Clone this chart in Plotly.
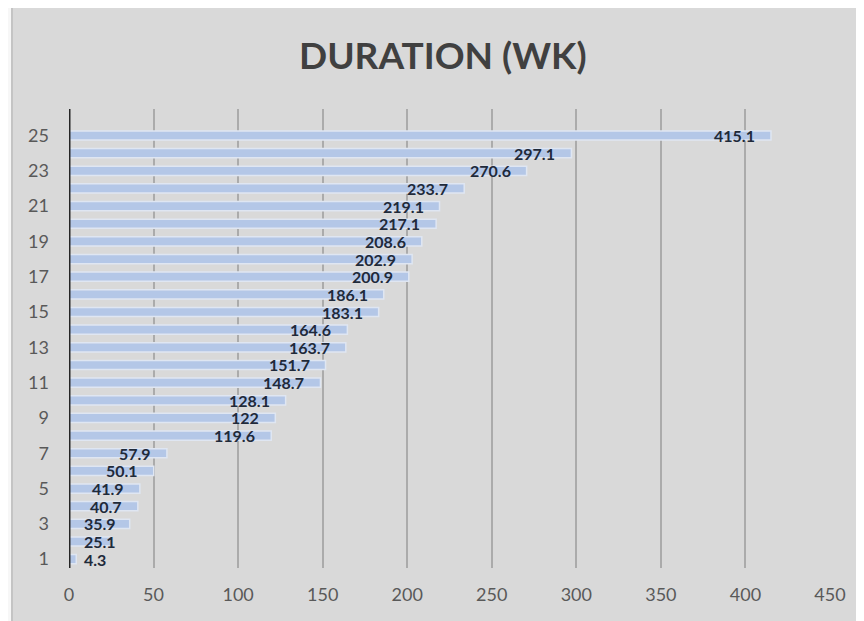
import plotly.graph_objects as go

categories = list(range(1, 26))
durations = [4.3, 25.1, 35.9, 40.7, 41.9, 50.1, 57.9, 119.6, 122, 128.1,
             148.7, 151.7, 163.7, 164.6, 183.1, 186.1, 200.9, 202.9, 208.6, 217.1,
             219.1, 233.7, 270.6, 297.1, 415.1]
y_ticks = [1, 3, 5, 7, 9, 11, 13, 15, 17, 19, 21, 23, 25]
x_ticks = [0, 50, 100, 150, 200, 250, 300, 350, 400, 450]

# page is offset by 8px body margin, so figure coordinates = page - 8
OFF = 8
W, H = 864 - OFF, 621 - OFF
L, R, T, B = 69 - OFF, 34, 109 - OFF, 53
pw = W - L - R
ph = H - T - B

def px_x(p):
    return (p - OFF - L) / pw

def px_y(p):
    return 1 - (p - OFF - T) / ph

fig = go.Figure()
fig.add_trace(go.Bar(
    x=durations, y=categories, orientation="h",
    width=0.52,
    marker=dict(color="#b4c7e7", line=dict(color="#dfe6f2", width=1.5)),
    hoverinfo="x+y",
))

lab_font = dict(family="Lato", size=16, color="#1f2a3a")
annotations = []
for c, v in zip(categories, durations):
    if v >= 40:
        annotations.append(dict(x=v, y=c, xref="x", yref="y", text=f"<b>{v:g}</b>",
                                showarrow=False, xanchor="right", xshift=-14,
                                font=lab_font))
    else:
        annotations.append(dict(x=0, y=c, xref="x", yref="y", text=f"<b>{v:g}</b>",
                                showarrow=False, xanchor="left", xshift=13,
                                font=lab_font))

annotations.append(dict(x=px_x(443), y=px_y(54), xref="paper", yref="paper",
                        text="<b>DURATION (WK)</b>", showarrow=False,
                        xanchor="center", yanchor="middle",
                        font=dict(family="Lato", size=37, color="#404040")))

shapes = [
    dict(type="rect", xref="paper", yref="paper", layer="below",
         x0=px_x(12), x1=px_x(880), y0=px_y(7), y1=px_y(640),
         fillcolor="#d9d9d9", line=dict(color="#c4c4c4", width=2)),
    dict(type="line", xref="x", yref="paper", x0=0, x1=0, y0=0, y1=1,
         line=dict(color="#262626", width=3)),
]

fig.update_layout(
    width=W, height=H,
    margin=dict(l=L, r=R, t=T, b=B),
    paper_bgcolor="#f7f7f7",
    plot_bgcolor="rgba(0,0,0,0)",
    showlegend=False,
    annotations=annotations,
    shapes=shapes,
    xaxis=dict(range=[0, 450], tickvals=x_ticks, showgrid=True,
               gridcolor="#ababab", gridwidth=1.5, zeroline=False,
               showline=False, ticks="", ticklabelstandoff=14,
               tickfont=dict(family="Lato", size=18, color="#595959")),
    yaxis=dict(range=[0.5, 26.5], tickvals=y_ticks, showgrid=False,
               zeroline=False, showline=False, ticks="", ticklabelstandoff=19,
               tickfont=dict(family="Lato", size=18, color="#595959")),
)

fig.write_html("out.html")
